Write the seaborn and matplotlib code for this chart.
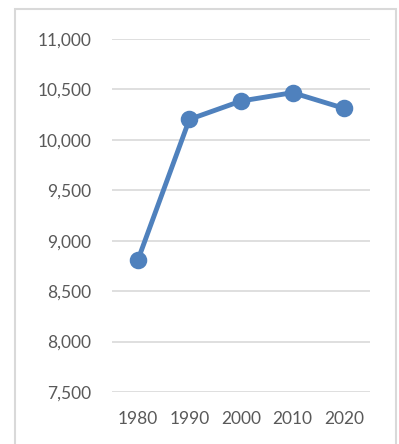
import matplotlib
matplotlib.use("Agg")
import matplotlib.pyplot as plt
from matplotlib.patches import Rectangle
from matplotlib.ticker import FuncFormatter
import seaborn as sns
import pandas as pd

years = ["1980", "1990", "2000", "2010", "2020"]
values = [8806, 10203, 10385, 10468, 10312]

sns.set_theme(style="white")
plt.rcParams["font.family"] = ["Lato", "DejaVu Sans"]

df = pd.DataFrame({"year": years, "value": values})

fig = plt.figure(figsize=(3.99, 4.44), dpi=100)
ax = fig.add_axes([112 / 399, 1 - 392 / 444, (370 - 112) / 399, (392 - 39) / 444])

line_color = "#4F81BD"
sns.pointplot(data=df, x="year", y="value", ax=ax, color=line_color,
              markers="o", markersize=10, linewidth=3.5, errorbar=None)

ax.set_ylim(7500, 11000)
ax.set_xlim(-0.5, len(years) - 0.5)
ax.set_yticks(range(7500, 11001, 500))
ax.yaxis.set_major_formatter(FuncFormatter(lambda v, _: f"{int(v):,}"))
ax.grid(axis="y", color="#D9D9D9", linewidth=1.2)
ax.set_axisbelow(True)
for s in ax.spines.values():
    s.set_visible(False)
ax.set_xlabel("")
ax.set_ylabel("")
ax.tick_params(axis="both", length=0, labelsize=12.5, labelcolor="#595959")
ax.tick_params(axis="y", pad=15)
ax.tick_params(axis="x", pad=14)

# chart area frame
fig.patches.append(Rectangle((15 / 399, -0.1), (396.5 - 15) / 399, 1.1 - 9.5 / 444,
                             transform=fig.transFigure, fill=False,
                             edgecolor="#D9D9D9", linewidth=1.5))

fig.savefig("out.png", dpi=100)
